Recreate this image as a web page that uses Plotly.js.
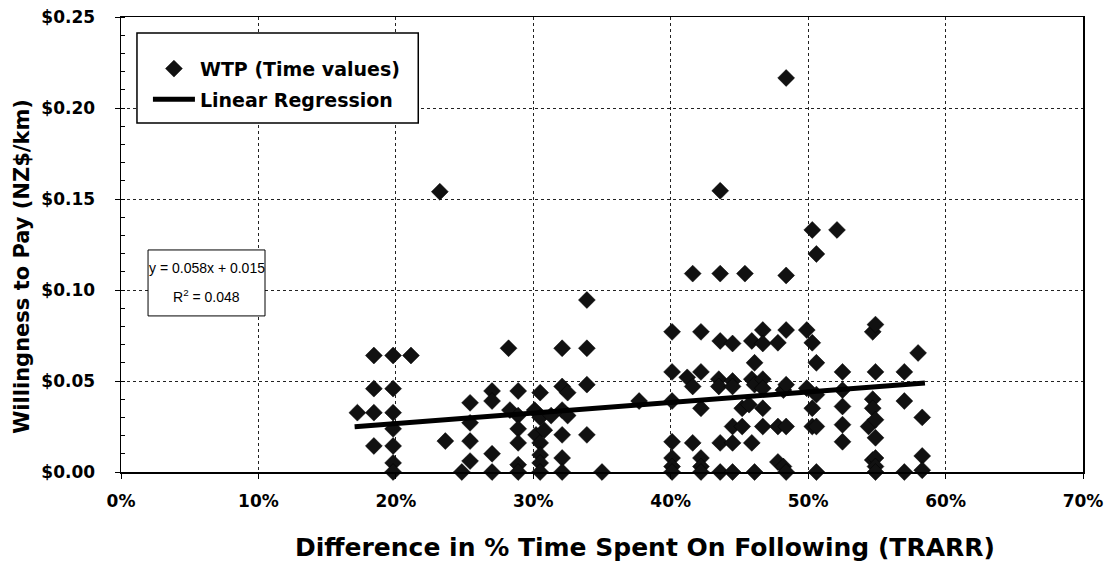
<!DOCTYPE html>
<html>
<head>
<meta charset="utf-8">
<script src="https://cdn.plot.ly/plotly-3.0.1.min.js"></script>
<style>
  html, body { margin: 0; padding: 0; background: #fff; }
  #chart { width: 1112px; height: 561px; }
</style>
</head>
<body>
<div id="chart"></div>
<script>
// WTP observations: difference in % time spent following (fraction) and willingness to pay (NZ$/km)
const wtpX = [
  0.172,
  0.184, 0.184, 0.184, 0.184,
  0.198, 0.198, 0.198, 0.198, 0.198, 0.198, 0.198,
  0.211,
  0.232, 0.236, 0.248,
  0.254, 0.254, 0.254, 0.254,
  0.270, 0.270, 0.270, 0.270,
  0.282, 0.283,
  0.289, 0.289, 0.289, 0.289, 0.289, 0.289,
  0.301, 0.302,
  0.305, 0.305, 0.305, 0.305, 0.305, 0.305,
  0.308, 0.313,
  0.321, 0.321, 0.321, 0.321, 0.321, 0.321,
  0.325, 0.325,
  0.339, 0.339, 0.339, 0.339,
  0.350, 0.377,
  0.401, 0.401, 0.401, 0.401, 0.401, 0.401, 0.401,
  0.412,
  0.416, 0.416, 0.416,
  0.422, 0.422, 0.422, 0.422, 0.422, 0.422,
  0.435, 0.435,
  0.436, 0.436, 0.436, 0.436, 0.436,
  0.445, 0.445, 0.445, 0.445, 0.445, 0.445,
  0.452, 0.452,
  0.454, 0.457,
  0.459, 0.459, 0.459,
  0.461, 0.461, 0.461,
  0.467, 0.467, 0.467, 0.467, 0.467, 0.467,
  0.478, 0.478, 0.478,
  0.482, 0.482,
  0.484, 0.484, 0.484, 0.484, 0.484, 0.484,
  0.499, 0.499,
  0.503, 0.503, 0.503, 0.503,
  0.506, 0.506, 0.506, 0.506, 0.506,
  0.521,
  0.525, 0.525, 0.525, 0.525, 0.525,
  0.544,
  0.547, 0.547, 0.547, 0.547,
  0.549, 0.549, 0.549, 0.549, 0.549, 0.549, 0.549,
  0.570, 0.570, 0.570,
  0.580,
  0.583, 0.583, 0.583
];
const wtpY = [
  0.0326,
  0.064, 0.0458, 0.0326, 0.0143,
  0.064, 0.0458, 0.0326, 0.0237, 0.0143, 0.005, 0.0,
  0.064,
  0.154, 0.017, 0.0,
  0.038, 0.027, 0.017, 0.006,
  0.0445, 0.039, 0.010, 0.0,
  0.068, 0.034,
  0.0445, 0.031, 0.0237, 0.016, 0.004, 0.0,
  0.034, 0.0204,
  0.0436, 0.030, 0.016, 0.0094, 0.005, 0.0,
  0.023, 0.031,
  0.068, 0.047, 0.034, 0.0204, 0.0077, 0.0,
  0.0436, 0.031,
  0.0945, 0.068, 0.048, 0.0204,
  0.0, 0.039,
  0.077, 0.055, 0.039, 0.0166, 0.0077, 0.003, 0.0,
  0.052,
  0.109, 0.047, 0.016,
  0.077, 0.055, 0.035, 0.0077, 0.003, 0.0,
  0.051, 0.047,
  0.1545, 0.109, 0.072, 0.016, 0.0,
  0.0706, 0.050, 0.047, 0.025, 0.016, 0.0,
  0.035, 0.025,
  0.109, 0.037,
  0.072, 0.051, 0.016,
  0.060, 0.048, 0.0,
  0.078, 0.0706, 0.051, 0.046, 0.035, 0.025,
  0.071, 0.025, 0.0055,
  0.045, 0.003,
  0.2165, 0.108, 0.078, 0.048, 0.025, 0.0,
  0.078, 0.046,
  0.133, 0.071, 0.035, 0.025,
  0.1198, 0.060, 0.0425, 0.025, 0.0,
  0.133,
  0.055, 0.045, 0.036, 0.026, 0.0166,
  0.025,
  0.077, 0.040, 0.035, 0.0066,
  0.081, 0.055, 0.0287, 0.0188, 0.0077, 0.003, 0.0,
  0.055, 0.039, 0.0,
  0.0654,
  0.030, 0.0088, 0.001
];
// Linear regression line end points (y = 0.058x + 0.015)
const regX = [0.170, 0.585];
const regY = [0.0249, 0.0489];

const xTickVals = [0, 0.1, 0.2, 0.3, 0.4, 0.5, 0.6, 0.7];
const xTickText = ['0%', '10%', '20%', '30%', '40%', '50%', '60%', '70%'];
const yTickVals = [0, 0.05, 0.10, 0.15, 0.20, 0.25];
const yTickText = ['$0.00', '$0.05', '$0.10', '$0.15', '$0.20', '$0.25'];
const xTitle = 'Difference in % Time Spent On Following (TRARR)';
const yTitle = 'Willingness to Pay (NZ$/km)';
const eqLine1 = 'y = 0.058x + 0.015';
const eqLine2 = 'R<sup>2</sup> = 0.048';

const BOLD = '"DejaVu Sans", Arial, sans-serif';
const REG = 'Arial, "Liberation Sans", sans-serif';

const traces = [
  {
    x: wtpX, y: wtpY, type: 'scatter', mode: 'markers',
    name: 'WTP (Time values)', legendgroup: 'a',
    marker: { symbol: 'diamond', size: 13, color: '#111', line: { width: 0.5, color: '#000' } },
    cliponaxis: false
  },
  {
    x: regX, y: regY, type: 'scatter', mode: 'lines',
    name: 'Linear Regression', legendgroup: 'b',
    line: { color: '#000', width: 5 }
  }
];

const layout = {
  width: 1112, height: 561,
  margin: { l: 121, r: 29, t: 17, b: 89 },
  paper_bgcolor: '#fff', plot_bgcolor: '#fff',
  font: { family: REG, color: '#000' },
  showlegend: true,
  legend: {
    x: 0.028, y: 0.928, xanchor: 'left', yanchor: 'top',
    bgcolor: 'rgba(0,0,0,0)', borderwidth: 0,
    font: { family: BOLD, size: 19, color: '#000', weight: 'bold' },
    traceorder: 'grouped', tracegroupgap: 3,
    itemwidth: 42
  },
  xaxis: {
    range: [0, 0.7],
    tickvals: xTickVals, ticktext: xTickText,
    tickfont: { family: BOLD, size: 17, weight: 'bold', color: '#000' },
    ticks: 'outside', ticklen: 5, tickcolor: '#000', ticklabelstandoff: 8,
    showline: true, linecolor: '#000', linewidth: 1.5, mirror: true,
    showgrid: true, gridcolor: '#222', griddash: 'dot', gridwidth: 1,
    zeroline: false
  },
  yaxis: {
    range: [0, 0.25],
    tickvals: yTickVals, ticktext: yTickText,
    tickfont: { family: BOLD, size: 17, weight: 'bold', color: '#000' },
    ticks: 'outside', ticklen: 5, tickcolor: '#000', ticklabelstandoff: 16,
    minor: { dtick: 0.01, ticks: 'inside', ticklen: 4, tickcolor: '#000', showgrid: false },
    showline: true, linecolor: '#000', linewidth: 1.5, mirror: true,
    showgrid: true, gridcolor: '#222', griddash: 'dot', gridwidth: 1,
    zeroline: false
  },
  shapes: [
    { type: 'rect', xref: 'paper', yref: 'paper', x0: 0.0166, x1: 0.309, y0: 0.767, y1: 0.965,
      line: { color: '#000', width: 1.5 }, fillcolor: '#fff', layer: 'above' },
    { type: 'rect', xref: 'paper', yref: 'paper', x0: 0.0281, x1: 0.1497, y0: 0.343, y1: 0.488,
      line: { color: '#000', width: 1 }, fillcolor: '#fff', layer: 'above' }
  ],
  annotations: [
    {
      xref: 'paper', yref: 'paper', x: 0.545, y: -0.165,
      xanchor: 'center', yanchor: 'middle',
      text: xTitle, showarrow: false,
      font: { family: BOLD, size: 25, color: '#000', weight: 'bold' }
    },
    {
      xref: 'paper', yref: 'paper', x: -0.103, y: 0.453,
      xanchor: 'center', yanchor: 'middle', textangle: -90,
      text: yTitle, showarrow: false,
      font: { family: BOLD, size: 21, color: '#000', weight: 'bold' }
    },
    {
      xref: 'paper', yref: 'paper', x: 0.0889, y: 0.448,
      xanchor: 'center', yanchor: 'middle',
      text: eqLine1, showarrow: false,
      font: { family: REG, size: 14, color: '#000' }
    },
    {
      xref: 'paper', yref: 'paper', x: 0.0889, y: 0.387,
      xanchor: 'center', yanchor: 'middle',
      text: eqLine2, showarrow: false,
      font: { family: REG, size: 14, color: '#000' }
    }
  ]
};

Plotly.newPlot('chart', traces, layout, { staticPlot: true, displayModeBar: false });
</script>
</body>
</html>
